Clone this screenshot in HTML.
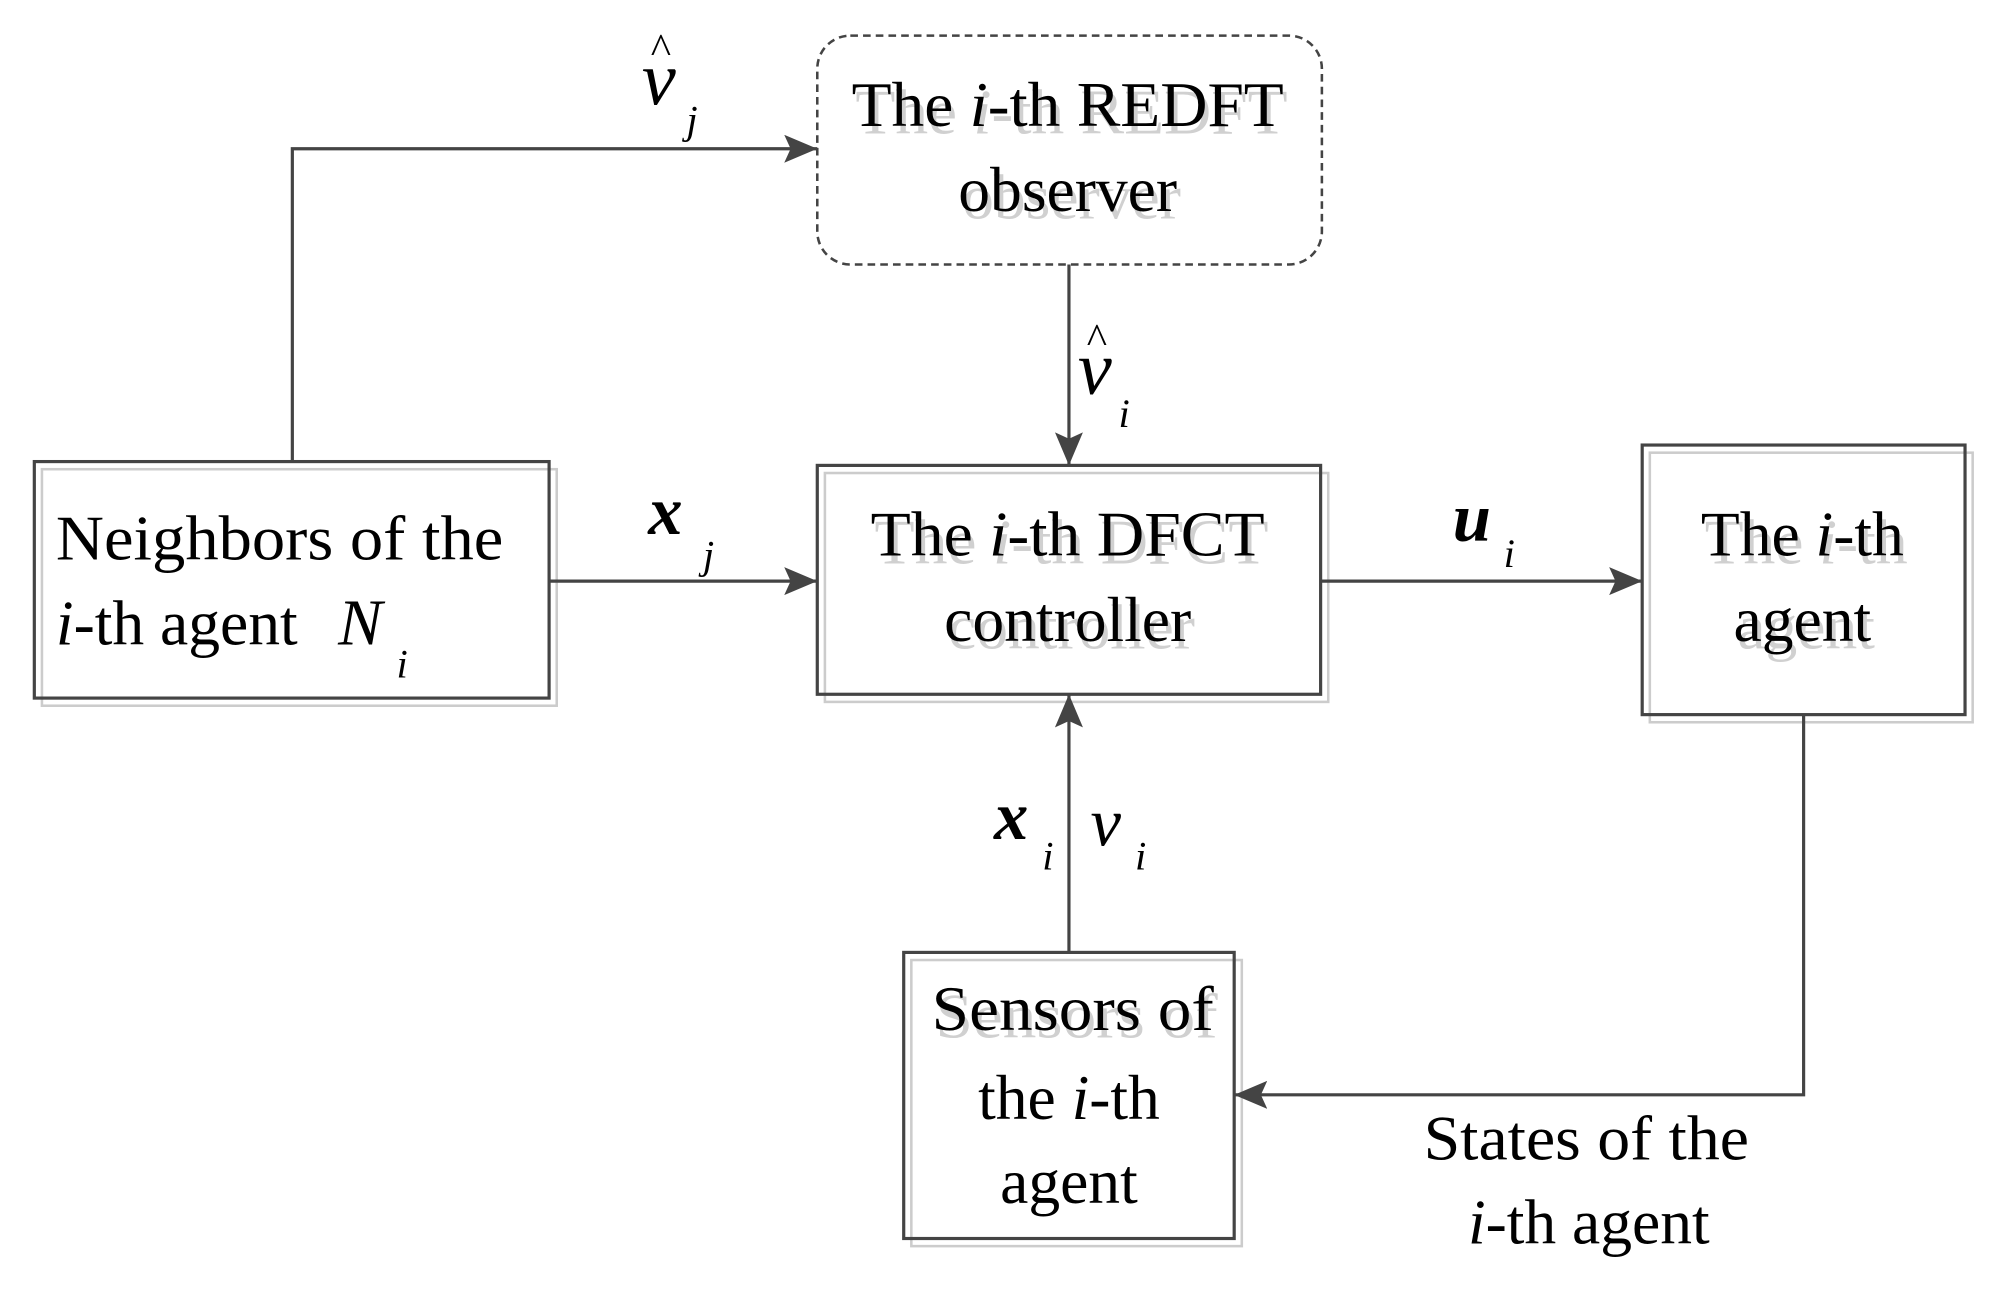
<!DOCTYPE html>
<html><head><meta charset="utf-8"><style>
html,body{margin:0;padding:0;background:#fff;}
svg{display:block;}
text{font-family:"Liberation Serif",serif;fill:#000;}
.sh{fill:#d0d0d0;}
</style></head><body>
<svg width="1993" height="1297" viewBox="0 0 1568 1020" preserveAspectRatio="none" xmlns="http://www.w3.org/2000/svg">
<defs>
<marker id="b" markerWidth="26" markerHeight="22" refX="26" refY="11" orient="auto" markerUnits="userSpaceOnUse" viewBox="0 0 26 22">
<path d="M0,0 L26,11 L0,22 L5,11 Z" fill="#444"/></marker>
</defs>
<g fill="none" stroke="#ccc" stroke-width="2">
<rect x="33" y="369" width="405" height="186"/>
<rect x="649" y="372" width="396" height="180"/>
<rect x="1298" y="356" width="254" height="212"/>
<rect x="717" y="755" width="260" height="225"/>
</g>
<g fill="none" stroke="#444" stroke-width="2.5">
<rect x="27" y="363" width="405" height="186"/>
<rect x="643" y="366" width="396" height="180"/>
<rect x="1292" y="350" width="254" height="212"/>
<rect x="711" y="749" width="260" height="225"/>
<rect x="643" y="28" width="397" height="180" rx="26" stroke-dasharray="6,4" stroke-width="2"/>
<polyline points="230,363 230,117 643,117" marker-end="url(#b)"/>
<line x1="841" y1="208" x2="841" y2="366" marker-end="url(#b)"/>
<line x1="432" y1="457" x2="643" y2="457" marker-end="url(#b)"/>
<line x1="1039" y1="457" x2="1292" y2="457" marker-end="url(#b)"/>
<line x1="841" y1="749" x2="841" y2="546" marker-end="url(#b)"/>
<polyline points="1419,562 1419,861 971,861" marker-end="url(#b)"/>
</g>
<g font-size="50" text-anchor="middle">
<text x="843" y="105" class="sh" textLength="340" lengthAdjust="spacingAndGlyphs">The <tspan font-style="italic">i</tspan>-th REDFT</text>
<text x="840" y="99" textLength="340" lengthAdjust="spacingAndGlyphs">The <tspan font-style="italic">i</tspan>-th REDFT</text>
<text x="843" y="172" class="sh">observer</text>
<text x="840" y="166">observer</text>
<text x="843" y="443" class="sh" textLength="310" lengthAdjust="spacingAndGlyphs">The <tspan font-style="italic">i</tspan>-th DFCT</text>
<text x="840" y="437" textLength="310" lengthAdjust="spacingAndGlyphs">The <tspan font-style="italic">i</tspan>-th DFCT</text>
<text x="843" y="510" class="sh">controller</text>
<text x="840" y="504">controller</text>
<text x="1421" y="443" class="sh">The <tspan font-style="italic">i</tspan>-th</text>
<text x="1418" y="437">The <tspan font-style="italic">i</tspan>-th</text>
<text x="1421" y="510" class="sh">agent</text>
<text x="1418" y="504">agent</text>
<text x="847" y="816" class="sh" textLength="222" lengthAdjust="spacingAndGlyphs">Sensors of</text>
<text x="844" y="810" textLength="222" lengthAdjust="spacingAndGlyphs">Sensors of</text>
<text x="841" y="880">the <tspan font-style="italic">i</tspan>-th</text>
<text x="841" y="946">agent</text>
<text x="1248" y="912" textLength="256" lengthAdjust="spacingAndGlyphs">States of the</text>
<text x="1250" y="978"><tspan font-style="italic">i</tspan>-th agent</text>
</g>
<g font-size="50">
<text x="44" y="440" textLength="352" lengthAdjust="spacingAndGlyphs">Neighbors of the</text>
<text x="44" y="507"><tspan font-style="italic">i</tspan>-th agent</text>
<text x="266" y="507" font-style="italic" font-size="52">N</text>
<text x="312" y="533" font-size="32" font-style="italic">i</text>
<text x="505" y="82" font-style="italic" font-size="60">ν</text>
<text x="512" y="50" font-size="34">^</text>
<text x="540" y="105" font-size="32" font-style="italic">j</text>
<text x="848" y="310" font-style="italic" font-size="60">ν</text>
<text x="855" y="278" font-size="34">^</text>
<text x="880" y="336" font-size="32" font-style="italic">i</text>
<text x="510" y="420" font-style="italic" font-weight="bold" font-size="54">x</text>
<text x="553" y="447" font-size="32" font-style="italic">j</text>
<text x="1143" y="425" font-style="italic" font-weight="bold" font-size="54">u</text>
<text x="1183" y="446" font-size="32" font-style="italic">i</text>
<text x="782" y="660" font-style="italic" font-weight="bold" font-size="54">x</text>
<text x="820" y="684" font-size="32" font-style="italic">i</text>
<text x="858" y="665" font-style="italic" font-size="54">ν</text>
<text x="893" y="684" font-size="32" font-style="italic">i</text>
</g>
</svg>
</body></html>
